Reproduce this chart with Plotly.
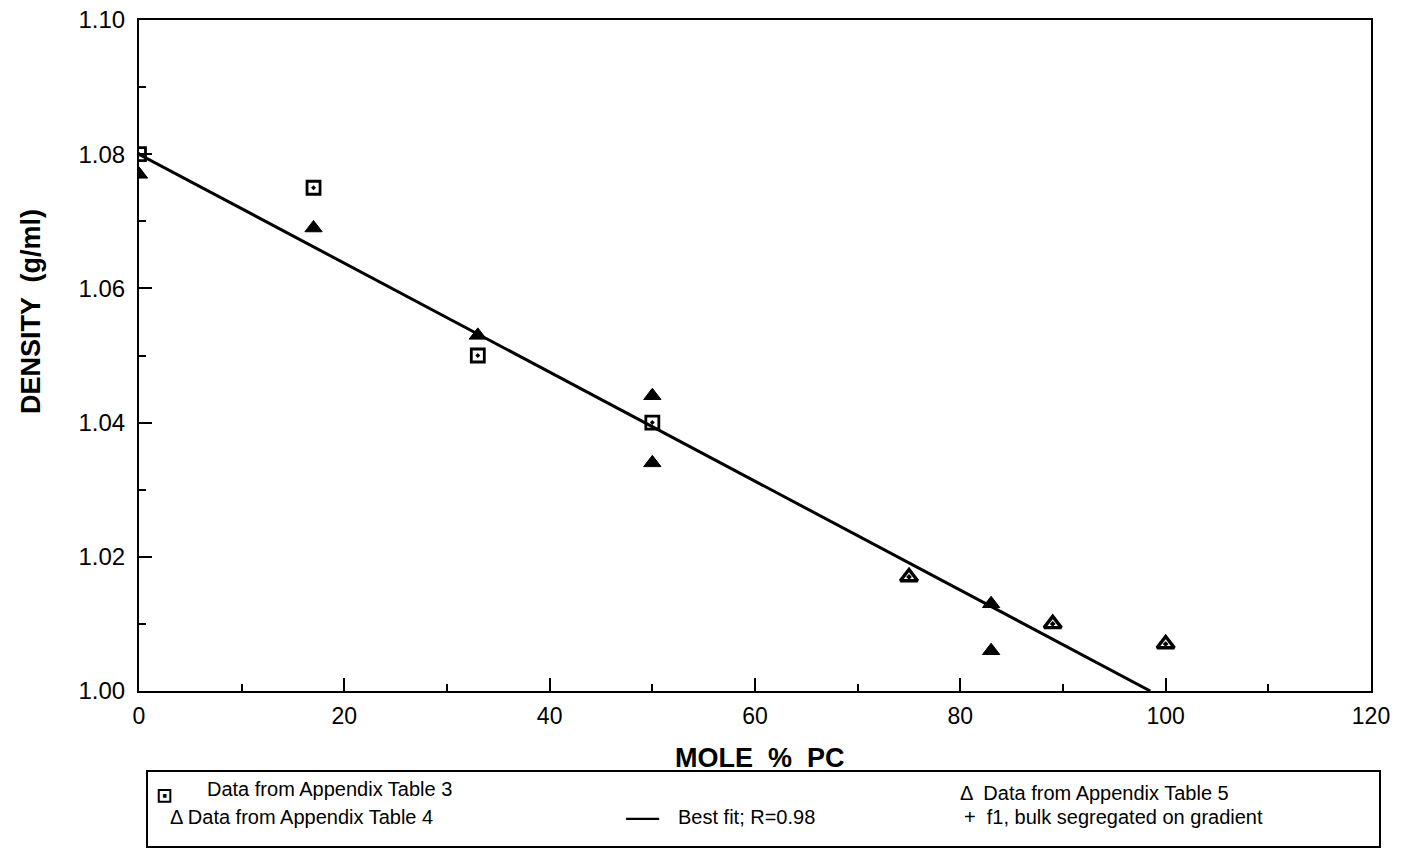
import plotly.graph_objects as go

# ---- data ----
t3_x = [0, 17, 33, 50]
t3_y = [1.080, 1.075, 1.050, 1.040]

t4_x = [0, 17, 33, 50, 50, 83, 83]
t4_y = [1.077, 1.069, 1.053, 1.044, 1.034, 1.013, 1.006]

t5_x = [75, 89, 100]
t5_y = [1.017, 1.010, 1.007]

fit_x = [0, 98.5]
fit_y = [1.080, 1.000]

x_ticks = [0, 20, 40, 60, 80, 100, 120]
y_ticks = [1.00, 1.02, 1.04, 1.06, 1.08, 1.10]
y_tick_text = ["1.00", "1.02", "1.04", "1.06", "1.08", "1.10"]

FONT = "Liberation Sans, Arial, Helvetica, sans-serif"

fig = go.Figure()
fig.add_trace(go.Scatter(x=fit_x, y=fit_y, mode="lines",
                         line=dict(color="black", width=3), showlegend=False))
fig.add_trace(go.Scatter(x=t3_x, y=t3_y, mode="markers",
                         marker=dict(symbol="square-open-dot", size=13, color="black",
                                     line=dict(width=2.8, color="black")),
                         showlegend=False))
fig.add_trace(go.Scatter(x=t4_x, y=t4_y, mode="markers",
                         marker=dict(symbol="triangle-up", size=15, color="black",
                                     line=dict(width=1, color="black")),
                         showlegend=False))
fig.add_trace(go.Scatter(x=t5_x, y=t5_y, mode="markers",
                         marker=dict(symbol="triangle-up-open-dot", size=15, color="black",
                                     line=dict(width=3.4, color="black")),
                         showlegend=False))

W, H = 1404, 849
# plot area in page pixel coordinates (body margin removed via post_script)
PL, PR, PT, PB = 139, 1371, 20, 691
L = PL
R = W - PR
T = PT
B = H - PB
pw = PR - PL
ph = PB - PT

def px(xp):
    return (xp - PL) / pw

def py(yp):
    return (PB - yp) / ph

fig.update_layout(
    width=W, height=H,
    margin=dict(l=L, r=R, t=T, b=B, autoexpand=False),
    paper_bgcolor="white", plot_bgcolor="white",
    font=dict(family=FONT, color="black"),
    xaxis=dict(range=[0, 120], tickvals=x_ticks, ticks="inside", ticklen=13, tickwidth=2,
               minor=dict(dtick=10, ticks="inside", ticklen=7, tickwidth=2, tickcolor="black"),
               tickcolor="black", showline=True, linecolor="black", linewidth=2, mirror=True,
               showgrid=False, zeroline=False, tickfont=dict(size=23, family=FONT),
               ticklabelstandoff=3, automargin=False, ticklabeloverflow="allow"),
    yaxis=dict(range=[1.00, 1.10], tickvals=y_ticks, ticktext=y_tick_text, ticks="inside",
               ticklen=13, tickwidth=2,
               minor=dict(dtick=0.01, ticks="inside", ticklen=7, tickwidth=2, tickcolor="black"),
               tickcolor="black", showline=True, linecolor="black", linewidth=2, mirror=True,
               showgrid=False, zeroline=False, tickfont=dict(size=24, family=FONT),
               ticklabelstandoff=7, automargin=False, ticklabeloverflow="allow"),
)

# axis titles
fig.add_annotation(x=px(760), y=py(758), xref="paper", yref="paper",
                   text="<b>MOLE  %  PC</b>", showarrow=False,
                   xanchor="center", yanchor="middle", font=dict(size=27, family=FONT))
fig.add_annotation(x=px(31), y=py(312), xref="paper", yref="paper",
                   text="<b>DENSITY  (g/ml)</b>", showarrow=False, textangle=-90,
                   xanchor="center", yanchor="middle", font=dict(size=27, family=FONT))

# legend box
fig.add_shape(type="rect", xref="paper", yref="paper",
              x0=px(147), x1=px(1380), y0=py(847), y1=py(771),
              line=dict(color="black", width=2))

leg_font = dict(size=20, family=FONT, color="black")
items = [
    (205, 789, "Data from Appendix Table 3"),
    (168, 817, "\u0394 Data from Appendix Table 4"),
    (676, 817, "Best fit; R=0.98"),
    (958, 793, "\u0394  Data from Appendix Table 5"),
    (962, 817, "+  f1, bulk segregated on gradient"),
]
for xp, yp, txt in items:
    fig.add_annotation(x=px(xp), y=py(yp), xref="paper", yref="paper", text=txt,
                       showarrow=False, xanchor="left", yanchor="middle", font=leg_font)
fig.add_annotation(x=px(624), y=py(815), xref="paper", yref="paper", text="\u2014",
                   showarrow=False, xanchor="left", yanchor="middle",
                   font=dict(size=33, family=FONT, color="black"))
fig.add_annotation(x=px(154), y=py(795), xref="paper", yref="paper", text="<b>\u22a1</b>",
                   showarrow=False, xanchor="left", yanchor="middle",
                   font=dict(size=20, family="DejaVu Sans", color="black"))

fig.write_html("out.html",
               config={"displayModeBar": False},
               post_script="document.body.style.margin='0';document.body.style.overflow='hidden';")
